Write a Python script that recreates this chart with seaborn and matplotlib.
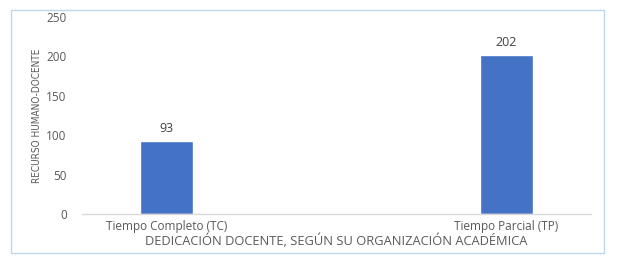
import matplotlib
matplotlib.use("Agg")
import matplotlib.pyplot as plt
import seaborn as sns
import pandas as pd
from matplotlib.patches import Rectangle

categories = ["Tiempo Completo (TC)", "Tiempo Parcial (TP)"]
values = [93, 202]
yticks = [0, 50, 100, 150, 200, 250]

sns.set_theme(style="white")
plt.rcParams['font.family'] = ['Open Sans', 'DejaVu Sans']

df = pd.DataFrame({"cat": categories, "val": values})
fig = plt.figure(figsize=(6.17, 2.70), dpi=100)
ax = fig.add_axes([82/617, 1-214/270, (591-82)/617, (214-17)/270])
sns.barplot(data=df, x="cat", y="val", ax=ax, color="#4472C4", width=0.156, saturation=1)
ax.set_xlim(-0.25, 1.25)
ax.set_ylim(0, 250)
ax.set_yticks(yticks)
ax.tick_params(axis='both', colors='#595959', labelsize=8.5, length=0)
ax.tick_params(axis='x', pad=4)
ax.tick_params(axis='y', pad=11)
for s in ["top", "right", "left"]:
    ax.spines[s].set_visible(False)
ax.spines["bottom"].set_color("#D9D9D9")
ax.spines["bottom"].set_linewidth(1)
for c in ax.containers:
    ax.bar_label(c, labels=[str(v) for v in values], padding=4, color="#404040", fontsize=9)
ax.set_xlabel("DEDICACIÓN DOCENTE, SEGÚN SU ORGANIZACIÓN ACADÉMICA", color="#595959", fontsize=9.3, labelpad=1)
ax.set_ylabel("RECURSO HUMANO-DOCENTE", color="#595959", fontsize=7.2,
              family='DejaVu Sans', fontstretch='condensed', labelpad=3)
fig.patches.append(Rectangle((11/617, 1-253/270), (604-11)/617, (253-10)/270,
                             transform=fig.transFigure, fill=False, edgecolor="#BDD7EE", linewidth=1))
fig.savefig("out.png", dpi=100)
